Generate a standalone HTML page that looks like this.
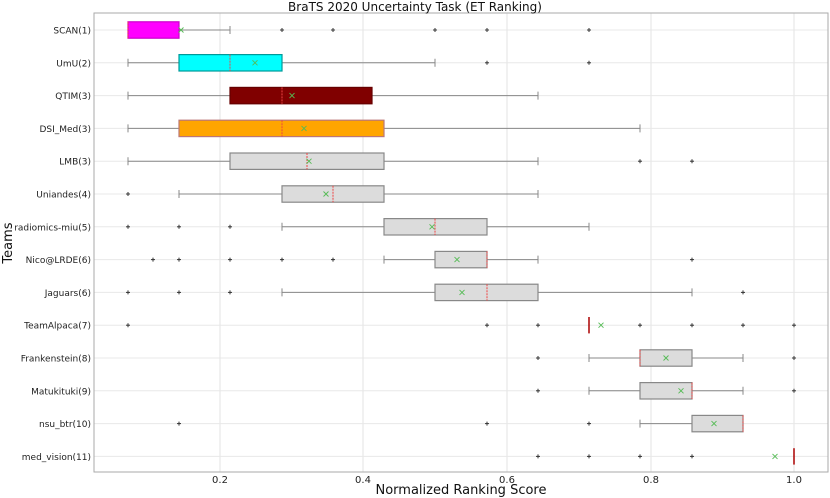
<!DOCTYPE html>
<html><head><meta charset="utf-8"><style>
html,body{margin:0;padding:0;background:#fff;}
svg{display:block;font-family:"DejaVu Sans","Liberation Sans",sans-serif;}
</style></head><body>
<svg id="s" width="830" height="498" viewBox="0 0 830 498" xmlns="http://www.w3.org/2000/svg">
<rect width="830" height="498" fill="#fff"/>
<g id="g"></g>
<text x="415" y="11" font-size="12" text-anchor="middle" fill="#111">BraTS 2020 Uncertainty Task (ET Ranking)</text>
<text x="461" y="494" font-size="13" text-anchor="middle" fill="#111">Normalized Ranking Score</text>
<text transform="translate(12,243) rotate(-90)" font-size="13" text-anchor="middle" fill="#111">Teams</text>
</svg>
<script>
const NS="http://www.w3.org/2000/svg",g=document.getElementById('g');
function el(t,a,txt){const e=document.createElementNS(NS,t);for(const k in a)e.setAttribute(k,a[k]);if(txt!==undefined)e.textContent=txt;g.appendChild(e);return e;}
const L=94,R=828,T=13,B=472;
const ticks=[[0.2,220],[0.4,363],[0.6,507],[0.8,651],[1.0,794]];
const rows=[
["SCAN(1)",{b:[128,179],m:128,mu:181,w:[128,230],o:[282,333,435,487,589],f:"#ff00ff",e:"#c0c"}],
["UmU(2)",{b:[179,282],m:230,mu:255,w:[128,435],o:[487,589],f:"#00ffff",e:"#099"}],
["QTIM(3)",{b:[230,372],m:282,mu:292,w:[128,538],o:[],f:"#800000",e:"#600"}],
["DSI_Med(3)",{b:[179,384],m:282,mu:304,w:[128,640],o:[],f:"#ffa500",e:"#b77"}],
["LMB(3)",{b:[230,384],m:307,mu:309,w:[128,538],o:[640,692]}],
["Uniandes(4)",{b:[282,384],m:333,mu:326,w:[179,538],o:[128]}],
["radiomics-miu(5)",{b:[384,487],m:435,mu:432,w:[282,589],o:[128,179,230]}],
["Nico@LRDE(6)",{b:[435,487],m:487,mu:457,w:[384,538],o:[153,179,230,282,333,692]}],
["Jaguars(6)",{b:[435,538],m:487,mu:462,w:[282,692],o:[128,179,230,743]}],
["TeamAlpaca(7)",{b:null,m:589,mu:601,o:[128,487,538,640,692,743,794]}],
["Frankenstein(8)",{b:[640,692],m:640,mu:666,w:[589,743],o:[538,794]}],
["Matukituki(9)",{b:[640,692],m:692,mu:681,w:[589,743],o:[538,794]}],
["nsu_btr(10)",{b:[692,743],m:743,mu:714,w:[640,743],o:[179,487,589]}],
["med_vision(11)",{b:null,m:794,mu:775,o:[538,589,640,692]}]
];
const y0=30,dy=32.8;
ticks.forEach(([v,x])=>{el('line',{x1:x,x2:x,y1:T,y2:B,stroke:"#e3e3e3","stroke-width":1});
el('text',{x:x,y:483,"font-size":10,"text-anchor":"middle",fill:"#222"},v.toFixed(1));});
rows.forEach((r,i)=>{const y=y0+i*dy;el('line',{x1:L,x2:R,y1:y,y2:y,stroke:"#e8e8e8","stroke-width":1});});
rows.forEach(([name,d],i)=>{const y=y0+i*dy,h=8.2;
 el('text',{x:91,y:y+3.5,"font-size":9,"text-anchor":"end",fill:"#222"},name);
 if(d.w){el('line',{x1:d.w[0],x2:d.b?d.b[0]:d.w[1],y1:y,y2:y,stroke:"#888"});
  if(d.b)el('line',{x1:d.b[1],x2:d.w[1],y1:y,y2:y,stroke:"#888"});
  [d.w[0],d.w[1]].forEach(x=>el('line',{x1:x,x2:x,y1:y-4,y2:y+4,stroke:"#888"}));}
 if(d.b){el('rect',{x:d.b[0],y:y-h,width:d.b[1]-d.b[0],height:2*h,fill:d.f||"#dcdcdc",stroke:d.e||"#888","stroke-width":1.2});}
 el('line',{x1:d.m,x2:d.m,y1:y-h,y2:y+h,stroke:d.b?"#e44":"#a00","stroke-width":d.b?1:1.5,"stroke-dasharray":d.b?"2,1":""});
 d.o.forEach(x=>{el('line',{x1:x-2,x2:x+2,y1:y,y2:y,stroke:"#333","stroke-width":1});el('line',{x1:x,x2:x,y1:y-2,y2:y+2,stroke:"#333","stroke-width":1});});
 const m=d.mu;el('path',{d:`M${m-2.5},${y-2.5}L${m+2.5},${y+2.5}M${m-2.5},${y+2.5}L${m+2.5},${y-2.5}`,stroke:"#5b5","stroke-width":0.9});
});
el('rect',{x:L,y:T,width:R-L,height:B-T,fill:"none",stroke:"#aaa","stroke-width":1});
</script>
</body></html>
